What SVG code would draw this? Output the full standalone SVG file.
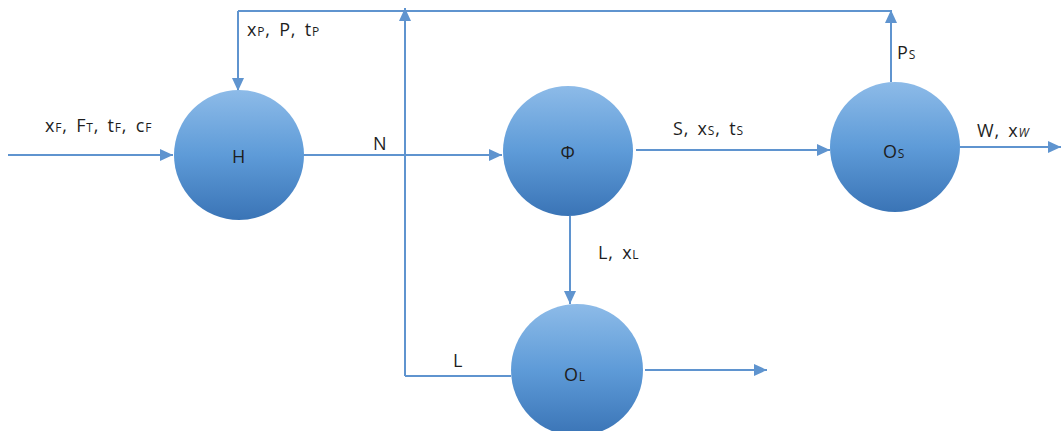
<svg xmlns="http://www.w3.org/2000/svg" width="1061" height="431" viewBox="0 0 1061 431">
<style>
.ln{fill:none;stroke:#5f94cf;stroke-width:2}
.t{font-family:"Open Sans","Liberation Sans",sans-serif;font-size:18px;fill:#1e1e1e;letter-spacing:0.8px;word-spacing:3px}
.s{font-size:12px}
.node{fill:url(#g)}
</style>
<defs>
<linearGradient id="g" x1="0" y1="0" x2="0" y2="1">
<stop offset="0" stop-color="#8dbbe8"/>
<stop offset="0.5" stop-color="#5e9bd8"/>
<stop offset="1" stop-color="#3a74b6"/>
</linearGradient>
<marker id="a" markerUnits="userSpaceOnUse" markerWidth="14" markerHeight="12" refX="13" refY="6" orient="auto">
<path d="M0,0 L13,6 L0,12 Z" fill="#5f94cf"/>
</marker>
</defs>
<rect width="1061" height="431" fill="#ffffff"/>
<g id="connectors">
<line class="ln" x1="8" y1="155" x2="173" y2="155" marker-end="url(#a)"/>
<line class="ln" x1="303" y1="155" x2="502" y2="155" marker-end="url(#a)"/>
<line class="ln" x1="405" y1="376" x2="405" y2="8" marker-end="url(#a)"/>
<line class="ln" x1="238" y1="11" x2="891" y2="11"/>
<line class="ln" x1="238" y1="11" x2="238" y2="91" marker-end="url(#a)"/>
<line class="ln" x1="891" y1="82" x2="891" y2="10" marker-end="url(#a)"/>
<line class="ln" x1="570" y1="216" x2="570" y2="304" marker-end="url(#a)"/>
<line class="ln" x1="636" y1="150" x2="830" y2="150" marker-end="url(#a)"/>
<line class="ln" x1="960" y1="147" x2="1061" y2="147" marker-end="url(#a)"/>
<line class="ln" x1="645" y1="370" x2="767" y2="370" marker-end="url(#a)"/>
<line class="ln" x1="511" y1="376" x2="405" y2="376"/>
<text class="t" x="45" y="132">x<tspan class="s">F</tspan>, F<tspan class="s">T</tspan>, t<tspan class="s">F</tspan>, c<tspan class="s">F</tspan></text>
<text class="t" x="247" y="36">x<tspan class="s">P</tspan>, P, t<tspan class="s">P</tspan></text>
<text class="t" x="373" y="150">N</text>
<text class="t" x="673" y="135">S, x<tspan class="s">S</tspan>, t<tspan class="s">S</tspan></text>
<text class="t" x="977" y="137">W, x<tspan class="s" font-style="italic">W</tspan></text>
<text class="t" x="897" y="59">P<tspan class="s">S</tspan></text>
<text class="t" x="598" y="259">L, x<tspan class="s">L</tspan></text>
<text class="t" x="453" y="367">L</text>
</g>
<g id="H">
<circle class="node" cx="239" cy="155" r="65"/>
<text class="t" x="239" y="163" text-anchor="middle">H</text>
</g>
<g id="Phi">
<circle class="node" cx="568" cy="151" r="65"/>
<text class="t" x="568" y="159" text-anchor="middle">Φ</text>
</g>
<g id="OS">
<circle class="node" cx="895" cy="147" r="65"/>
<text class="t" x="894" y="158" text-anchor="middle">O<tspan class="s">S</tspan></text>
</g>
<g id="OL">
<circle class="node" cx="577" cy="370" r="66"/>
<text class="t" x="575" y="381" text-anchor="middle">O<tspan class="s">L</tspan></text>
</g>
</svg>
